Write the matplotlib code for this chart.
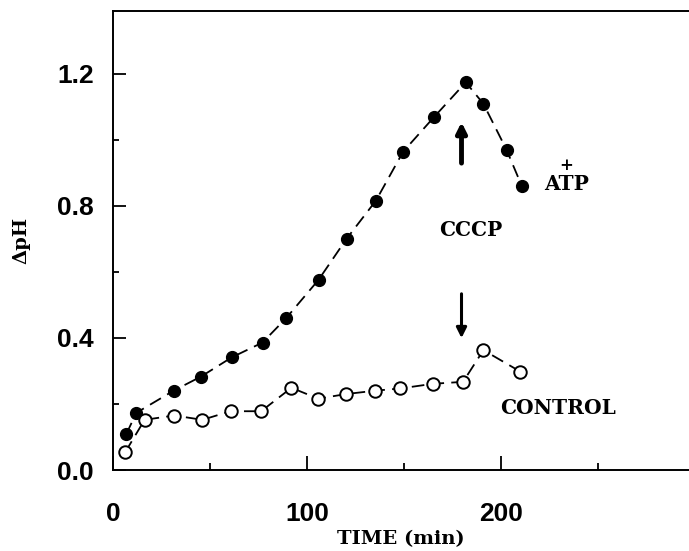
import matplotlib.pyplot as plt

# CCCP + ATP series (filled circles)
t_atp = [6.8, 12.0, 31.2, 45.4, 61.2, 77.1, 89.3, 106.0, 120.4, 135.6,
         149.6, 165.4, 181.9, 191.0, 202.9, 210.8]
ph_atp = [0.108, 0.173, 0.240, 0.283, 0.341, 0.386, 0.460, 0.576, 0.700,
          0.816, 0.964, 1.068, 1.174, 1.109, 0.970, 0.860]

# control series (open circles)
t_ctl = [6.3, 16.3, 31.6, 46.1, 60.6, 76.4, 92.0, 105.8, 120.2, 134.9,
         148.2, 164.9, 180.5, 191.0, 210.0]
ph_ctl = [0.054, 0.152, 0.165, 0.152, 0.178, 0.178, 0.249, 0.216, 0.230,
          0.240, 0.247, 0.261, 0.267, 0.363, 0.298]

xticks = [0, 100, 200]
yticks = [0.0, 0.4, 0.8, 1.2]

serif = ['DejaVu Serif']

fig = plt.figure(figsize=(6.89, 5.51), dpi=100)
ax = fig.add_axes([0.164, 0.147, 0.836, 0.833])

ax.plot(t_atp, ph_atp, color='black', lw=1.3, dashes=(7, 4),
        marker='o', ms=8.5, mfc='black', mec='black', zorder=3)
ax.plot(t_ctl, ph_ctl, color='black', lw=1.3, dashes=(7, 4),
        marker='o', ms=9, mfc='white', mec='black', mew=1.4, zorder=3)

ax.set_xlim(0, 297)
ax.set_ylim(0, 1.39)
ax.spines['right'].set_visible(False)
for s in ['left', 'bottom', 'top']:
    ax.spines[s].set_linewidth(1.4)

ax.set_xticks(xticks)
ax.set_xticks([50, 150, 250], minor=True)
ax.set_yticks(yticks)
ax.set_yticks([0.2, 0.6, 1.0], minor=True)
ax.set_yticklabels(['0.0', '0.4', '0.8', '1.2'])
ax.tick_params(which='both', direction='in', width=1.3,
               labelsize=19)
ax.tick_params(axis='x', which='major', length=10, pad=23)
ax.tick_params(axis='x', which='minor', length=5)
ax.tick_params(axis='y', which='major', length=9, pad=14)
ax.tick_params(axis='y', which='minor', length=4)
for lab in ax.get_xticklabels() + ax.get_yticklabels():
    lab.set_fontweight('bold')
    lab.set_family(['Liberation Sans'])

ax.set_xlabel('TIME (min)', family=serif, fontsize=14, fontweight='bold',
              labelpad=3)
ax.set_ylabel('ΔpH', family=serif, fontsize=14, fontweight='bold',
              labelpad=19)

# arrows marking the additions
ax.annotate('', xy=(179.7, 1.062), xytext=(179.7, 0.921),
            arrowprops=dict(arrowstyle='-|>', color='black', lw=3.5,
                            mutation_scale=15))
ax.annotate('', xy=(179.7, 0.391), xytext=(179.7, 0.542),
            arrowprops=dict(arrowstyle='-|>', color='black', lw=2.2,
                            mutation_scale=15))

ax.text(184.6, 0.727, 'CCCP', family=serif, fontsize=14.5,
        fontweight='bold', ha='center', va='center')
ax.text(229.3, 0.189, 'CONTROL', family=serif, fontsize=14.5,
        fontweight='bold', ha='center', va='center')
ax.text(233.7, 0.865, 'ATP', family=serif, fontsize=14.5,
        fontweight='bold', ha='center', va='center')
ax.text(233.7, 0.922, '+', family=serif, fontsize=12,
        fontweight='bold', ha='center', va='center')

fig.savefig('out.png', dpi=100)
